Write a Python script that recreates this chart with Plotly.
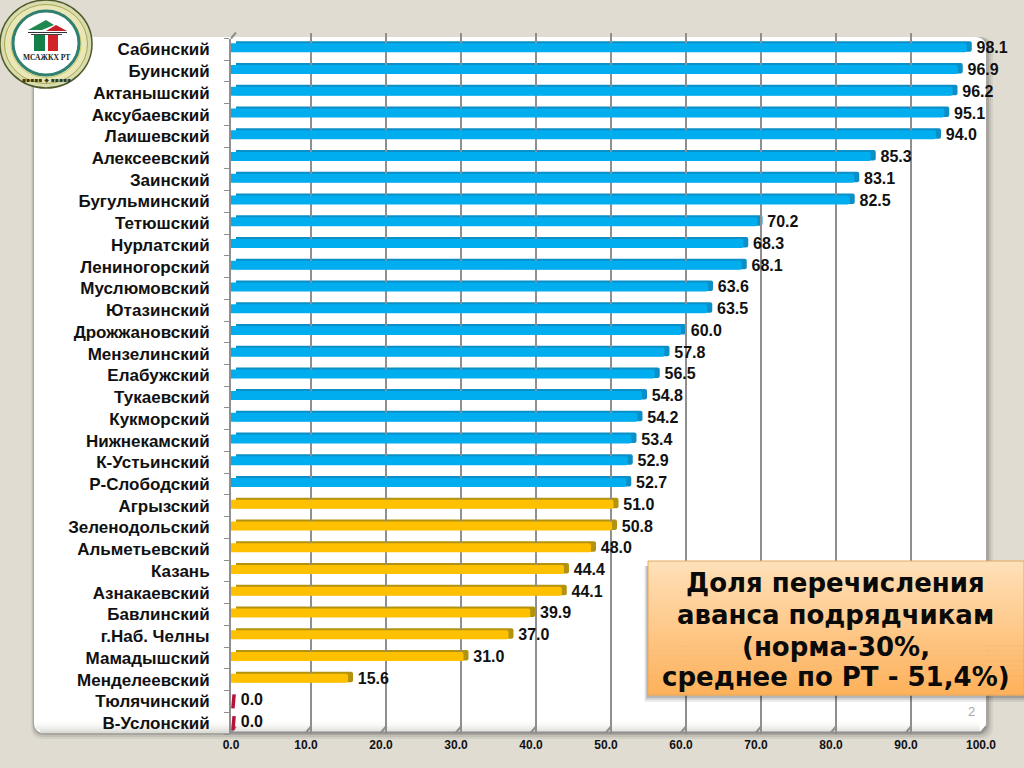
import plotly.graph_objects as go

districts = ["Сабинский","Буинский","Актанышский","Аксубаевский","Лаишевский","Алексеевский","Заинский","Бугульминский",
 "Тетюшский","Нурлатский","Лениногорский","Муслюмовский","Ютазинский","Дрожжановский","Мензелинский","Елабужский",
 "Тукаевский","Кукморский","Нижнекамский","К-Устьинский","Р-Слободский","Агрызский","Зеленодольский","Альметьевский",
 "Казань","Азнакаевский","Бавлинский","г.Наб. Челны","Мамадышский","Менделеевский","Тюлячинский","В-Услонский"]
shares = [98.1,96.9,96.2,95.1,94.0,85.3,83.1,82.5,70.2,68.3,68.1,63.6,63.5,60.0,57.8,56.5,54.8,54.2,53.4,52.9,52.7,
 51.0,50.8,48.0,44.4,44.1,39.9,37.0,31.0,15.6,0.0,0.0]
x_ticks = [0,10,20,30,40,50,60,70,80,90,100]
box_lines = ["Доля перечисления","аванса подрядчикам","(норма-30%,","среднее по РТ - 51,4%)"]
republic_mean = 51.4

W, H = 1024, 768
BG = "#e0dcd2"
GRID = "#8f8f8f"
def fx(p): return p / W
def fy(p): return 1 - p / H

# plot geometry in pixels
FX0, FX1, FY0, FY1 = 231, 981, 38.5, 734     # front plane
FLOOR = 732.5
DX, DY = 5, 6                               # 3-D depth
BAND = (FY1 - FY0) / len(districts)

front_col = ["#00aeef" if v > republic_mean else "#ffc000" for v in shares]
side_col = ["#0b8fc6" if v > republic_mean else "#b3920f" for v in shares]

shapes, annos = [], []
def rect(x0, y0, x1, y1, fill, layer="below", op=1, line=None):
    shapes.append(dict(type="rect", xref="paper", yref="paper", x0=fx(x0), x1=fx(x1), y0=fy(y0), y1=fy(y1),
                       fillcolor=fill, opacity=op, layer=layer, line=line or dict(width=0)))
def rpath(x0, y0, x1, y1, r):
    X = lambda v: fx(v)
    Y = lambda v: fy(v)
    return (f"M{X(x0+r)},{Y(y0)} L{X(x1-r)},{Y(y0)} Q{X(x1)},{Y(y0)} {X(x1)},{Y(y0+r)} L{X(x1)},{Y(y1-r)} "
            f"Q{X(x1)},{Y(y1)} {X(x1-r)},{Y(y1)} L{X(x0+r)},{Y(y1)} Q{X(x0)},{Y(y1)} {X(x0)},{Y(y1-r)} "
            f"L{X(x0)},{Y(y0+r)} Q{X(x0)},{Y(y0)} {X(x0+r)},{Y(y0)} Z")
def path(d, fill, layer="below", op=1, line=None):
    shapes.append(dict(type="path", xref="paper", yref="paper", path=d, fillcolor=fill, opacity=op, layer=layer,
                       line=line or dict(width=0)))
def ell(cx, cy, rx, ry, fill, line=None, layer="above"):
    shapes.append(dict(type="circle", xref="paper", yref="paper", x0=fx(cx-rx), x1=fx(cx+rx), y0=fy(cy+ry), y1=fy(cy-ry),
                       fillcolor=fill, layer=layer, line=line or dict(width=0)))
def poly(pts, fill, layer="above"):
    d = "M" + " L".join(f"{fx(a)},{fy(b)}" for a, b in pts) + " Z"
    path(d, fill, layer)
def label(text, x, y, font):
    annos.append(dict(text=text, xref="paper", yref="paper", x=fx(x), y=fy(y), showarrow=False, xanchor="center",
                      yanchor="middle", font=font))

# panel shadow and panel
for g, o in [(6, .06), (4, .08), (2, .12)]:
    path(rpath(34-g/2, 37, 987+g, 732+g+1, 12), "#000000", op=o)
path(rpath(34, 37, 986, 733, 11), "#ffffff")
for i, (y, c) in enumerate([(722,"#fbfbfa"),(725,"#f5f5f3"),(727,"#eeeeeb"),(729,"#e6e6e2"),(731,"#dcdcd7")]):
    rect(40 if i > 2 else 36, y, 980, min(y+3, 733), c)

# floor line and zig-zags
shapes.append(dict(type="line", xref="paper", yref="paper", x0=fx(FX0), y0=fy(FLOOR), x1=fx(FX1), y1=fy(FLOOR),
                   layer="below", line=dict(color=GRID, width=2)))
for t in x_ticks:
    x = FX0 + (FX1-FX0)*t/100
    shapes.append(dict(type="line", xref="paper", yref="paper", x0=fx(x), y0=fy(FLOOR), x1=fx(x+DX), y1=fy(FLOOR-DY),
                       layer="below", line=dict(color=GRID, width=2)))
# top-left wall corner
shapes.append(dict(type="line", xref="paper", yref="paper", x0=fx(FX0), y0=fy(FY0), x1=fx(FX0+DX), y1=fy(FY0-DY),
                   layer="below", line=dict(color=GRID, width=2)))

# orange box
for g, o in [(7, .07), (5, .10), (3, .14)]:
    rect(648-g/2, 566, 1024, 695+g, "#000000", "above", o)
BOX0, BOX1 = 561, 695
N = 27
for i in range(N):
    t = i/(N-1)
    c = "#%02x%02x%02x" % (int(254+1*t), int(224-(224-178)*t), int(184-(184-92)*t))
    rect(648, BOX0+(BOX1-BOX0)*i/N, 1024, BOX0+(BOX1-BOX0)*(i+1)/N+.5, c, "above")
shapes.append(dict(type="rect", xref="paper", yref="paper", x0=fx(648), x1=fx(1024), y0=fy(BOX1), y1=fy(BOX0),
                   layer="above", line=dict(color="#e3a862", width=1)))
for line, y in zip(box_lines, [583, 615, 647, 677]):
    label(line, 835.5, y, dict(family="DejaVu Sans", size=26, color="#0a0a0a", weight="bold"))
label("2", 971, 711, dict(family="Liberation Sans", size=13, color="#a8a8a8"))

# logo
ell(46, 44, 46, 44, "#d9dcae", dict(color="#4f5a2a", width=1.5))
ell(46, 44, 41.5, 39.5, "#e9e6b8", dict(color="#a7a84a", width=1))
ell(46, 44, 35, 33.5, "#f4f3dd", dict(color="#c9c860", width=1))
ell(46, 43, 33, 32, "#ffffff", dict(color="#2f8070", width=3))
poly([(28,30),(46,20),(54,25),(42,30)], "#1f8a50")
poly([(46,31),(56,25),(67,31)], "#c8202a")
poly([(28,32),(67,32),(67,33),(28,33)], "#333333")
rect(34, 35, 45, 51, "#13804a", "above")
rect(48, 35, 58, 51, "#d2232a", "above")
rect(31, 34, 62, 35, "#444444", "above")
label("МСАЖКХ РТ", 46, 57, dict(family="Liberation Serif", size=7.5, color="#222222", weight="bold"))
label("▪▪▪▪▪ ◆ ▪▪▪▪▪", 46, 79, dict(family="DejaVu Sans", size=6, color="#3a3a20"))

fig = go.Figure()
# depth bars: back plane (x / y)
fig.add_trace(go.Bar(y=districts, x=shares, orientation="h", xaxis="x", yaxis="y",
                     marker=dict(color=side_col, cornerradius=2, line=dict(width=0)),
                     width=10.5/BAND, offset=-2/BAND, hoverinfo="skip"))
# front bars (x2 / y2)
fig.add_trace(go.Bar(y=districts, x=shares, orientation="h", xaxis="x2", yaxis="y2",
                     marker=dict(color=front_col, cornerradius=2, line=dict(width=0)),
                     width=9/BAND, offset=-6/BAND, hoverinfo="skip"))
# zero-height bars drawn as a thin red sliver
zero_y = [d for d, v in zip(districts, shares) if v == 0]
zero_x = [v for v in shares if v == 0]
fig.add_trace(go.Scatter(y=zero_y, x=zero_x, xaxis="x3", yaxis="y2", mode="markers", cliponaxis=False,
                         marker=dict(symbol="line-ns", size=10, angle=5, line=dict(color="#b8123c", width=3.5)),
                         hoverinfo="skip"))
# value labels
fig.add_trace(go.Scatter(y=districts, x=shares, xaxis="x", yaxis="y2", mode="markers+text", cliponaxis=False,
                         text=[f"{v:.1f}" for v in shares], textposition="middle right",
                         marker=dict(size=6, opacity=0),
                         textfont=dict(family="Liberation Sans", size=16, color="#111111", weight="bold"),
                         hoverinfo="skip"))

fig.update_layout(
    width=W, height=H, margin=dict(l=0, r=0, t=0, b=0, autoexpand=False), autosize=False,
    paper_bgcolor=BG, plot_bgcolor="rgba(0,0,0,0)", showlegend=False, barmode="overlay",
    shapes=shapes, annotations=annos,
    # back plane
    xaxis=dict(domain=[fx(FX0+DX), fx(FX1+DX)], range=[0, 100], anchor="y", tickvals=x_ticks, showticklabels=False,
               showgrid=True, gridcolor=GRID, gridwidth=2, zeroline=False, showline=False, ticks=""),
    yaxis=dict(domain=[fy(FY1-DY), fy(FY0-DY)], type="category", categoryorder="array", categoryarray=districts,
               range=[len(districts)-.5, -.5], anchor="x", showticklabels=False, showgrid=False,
               showline=False, ticks=""),
    # front plane
    xaxis2=dict(domain=[fx(FX0), fx(FX1)], range=[0, 100], anchor="y2", tickvals=x_ticks, tickformat=".1f",
                showgrid=False, zeroline=False, showline=False, ticks="",
                tickfont=dict(family="Liberation Sans", size=12, color="#111111", weight="bold"), ticklabelstandoff=2),
    yaxis2=dict(domain=[fy(FY1), fy(FY0)], type="category", categoryorder="array", categoryarray=districts,
                range=[len(districts)-.5, -.5], anchor="x2", tickmode="array", tickvals=districts, tickson="boundaries",
                ticks="outside", ticklen=5, tickcolor=GRID, tickwidth=1, showgrid=False, showline=True,
                linecolor=GRID, linewidth=2, ticklabelstandoff=16,
                tickfont=dict(family="Liberation Sans", size=17, color="#111111", weight="bold")),
    xaxis3=dict(domain=[fx(FX0+2.5), fx(FX1+2.5)], range=[0, 100], anchor="y2", visible=False),
)
fig.write_html("out.html", config=dict(displayModeBar=False, responsive=False),
               default_width="1024px", default_height="768px",
               post_script="document.body.style.margin='0';document.body.style.overflow='hidden';")
